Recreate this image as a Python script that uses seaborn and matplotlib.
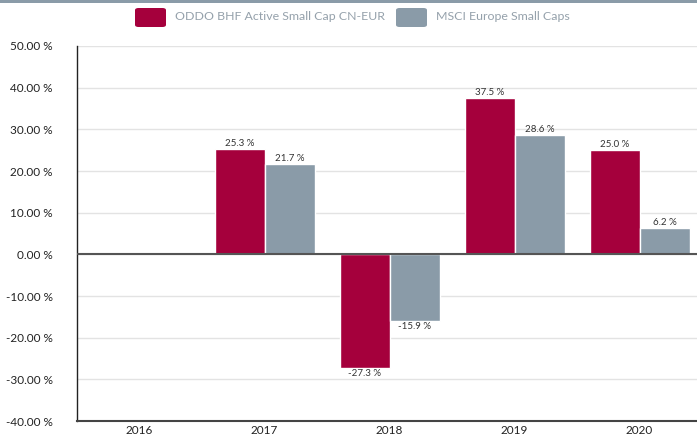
import numpy as np
import pandas as pd
import matplotlib
matplotlib.use("Agg")
import matplotlib.pyplot as plt
from matplotlib.patches import FancyBboxPatch, Rectangle
from matplotlib.ticker import FixedLocator
import seaborn as sns

years = ["2016", "2017", "2018", "2019", "2020"]
fund_name = "ODDO BHF Active Small Cap CN-EUR"
bench_name = "MSCI Europe Small Caps"
fund_values = [np.nan, 25.3, -27.3, 37.5, 25.0]
bench_values = [np.nan, 21.7, -15.9, 28.6, 6.2]
y_ticks = [50, 40, 30, 20, 10, 0, -10, -20, -30, -40]

red = "#a5003c"
grey = "#8a9ba8"

df = pd.DataFrame({
    "year": years * 2,
    "value": fund_values + bench_values,
    "series": [fund_name] * len(years) + [bench_name] * len(years),
})

sns.set_style("white")
plt.rcParams["font.family"] = ["Lato", "DejaVu Sans"]

fig = plt.figure(figsize=(6.97, 4.36), dpi=100)
W, H = 697, 436
ax = fig.add_axes([77 / W, 1 - 421 / H, 1 - 77 / W, (421 - 46) / H])

sns.barplot(data=df.dropna(), x="year", y="value", hue="series", order=years,
            hue_order=[fund_name, bench_name], palette=[red, grey],
            width=0.8, saturation=1, ax=ax, legend=False)

ax.set_xlim(-0.5, 4.46)
ax.set_ylim(-40, 50)
ax.set_yticks(y_ticks)
ax.set_yticklabels([f"{v:.2f} %" for v in y_ticks], fontsize=8.5, color="#222")
ax.yaxis.grid(True, color="#e3e3e3", linewidth=1)
ax.set_axisbelow(True)
ax.axhline(0, color="#555555", linewidth=1.5, zorder=3)
ax.tick_params(axis="y", length=14.5, width=1, color="#222", pad=3)
ax.tick_params(axis="x", which="major", length=0, labelsize=8.5, labelcolor="#222", pad=3)
ax.xaxis.set_minor_locator(FixedLocator([0.5, 1.5, 2.5, 3.5]))
ax.tick_params(axis="x", which="minor", length=15, width=1, color="#222")
ax.set_xlabel("")
ax.set_ylabel("")
for s in ["top", "right"]:
    ax.spines[s].set_visible(False)
ax.spines["left"].set_color("#222")
ax.spines["left"].set_linewidth(1)
ax.spines["bottom"].set_color("#444")
ax.spines["bottom"].set_linewidth(1.5)

for cont in ax.containers:
    for bar in cont:
        h = bar.get_height()
        if np.isnan(h):
            continue
        x = bar.get_x() + bar.get_width() / 2
        if h >= 0:
            ax.annotate(f"{h:.1f} %", (x, h), xytext=(0, 1), textcoords="offset points",
                        ha="center", va="bottom", fontsize=7, color="#333")
        else:
            ax.annotate(f"{h:.1f} %", (x, h), xytext=(0, -1), textcoords="offset points",
                        ha="center", va="top", fontsize=7, color="#333")

# top band
fig.add_artist(Rectangle((0, 1 - 3 / H), 1, 3 / H, transform=fig.transFigure,
                         color=grey, lw=0))

# legend
for x0, x1, c, label in [(135, 166, red, fund_name), (396, 427, grey, bench_name)]:
    fig.add_artist(FancyBboxPatch((x0 / W, 1 - 27 / H), (x1 - x0) / W, 19 / H,
                                  boxstyle="round,pad=0,rounding_size=0.005",
                                  transform=fig.transFigure, color=c, lw=0))
    fig.text((x1 + 9) / W, 1 - 17 / H, label, fontsize=8.9, color="#95a1ab",
             ha="left", va="center")

fig.savefig("out.png", dpi=100)
